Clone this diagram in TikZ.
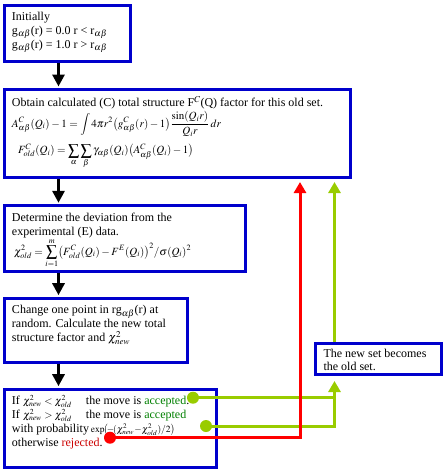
\documentclass[tikz,border=0pt]{standalone}
\usepackage{mathptmx}
\usepackage{amsmath}
\usepackage{fontspec}
\setmainfont{Liberation Serif}
\usepackage{xcolor}
\usetikzlibrary{arrows.meta,positioning,calc}
\definecolor{rmcblue}{RGB}{0,0,204}
\definecolor{movegreen}{RGB}{153,204,0}
\definecolor{okgreen}{RGB}{0,128,0}
\definecolor{rejred}{RGB}{204,0,0}
\definecolor{loopred}{RGB}{255,0,0}
\newcommand{\stagetext}[3]{\parbox[t][#2][t]{#1}{\raggedright #3}}
\newcommand{\eqsize}{\fontsize{11}{13}\selectfont}
\newcommand{\chisize}{\fontsize{10.5}{12}\selectfont}
\tikzset{
  stage/.style={rectangle, draw=rmcblue, line width=3pt, fill=white, anchor=north west,
    inner xsep=8pt, inner ysep=7pt, font=\fontsize{12}{14}\selectfont},
  flow/.style={-{Triangle[length=12pt,width=12pt]}, line width=3pt},
  okline/.style={draw=movegreen, line width=3pt},
  rejline/.style={draw=loopred, line width=3pt},
  okflow/.style={okline, -{Triangle[length=11pt,width=12pt]}},
  rejflow/.style={rejline, -{Triangle[length=11pt,width=12pt]}},
  dot/.style={circle, inner sep=0pt, minimum size=12pt},
}

\begin{document}
\begin{tikzpicture}[x=1pt, y=-1pt]
  \useasboundingbox (0,0) rectangle (443,469);
  % boxes of the RMC loop (left column)
  \node[stage] (init) at (2.5,3.5) {\stagetext{110pt}{42pt}{%
    Initially\\
    g$_{\alpha\beta}$(r) = 0.0 r < r$_{\alpha\beta}$\\
    g$_{\alpha\beta}$(r) = 1.0 r > r$_{\alpha\beta}$}};
  \node[stage] (calc) at (2.5,88) {\stagetext{330.8pt}{74pt}{%
    Obtain calculated (C) total structure F$^{C}$(Q) factor for this old set.\\[1pt]
    {\eqsize $\displaystyle A^{C}_{\alpha\beta}(Q_i)-1=\int 4\pi r^{2}\bigl(g^{C}_{\alpha\beta}(r)-1\bigr)\frac{\sin(Q_i r)}{Q_i r}\,dr$}\\[6pt]
    \hspace*{6pt}{\eqsize $\displaystyle F^{C}_{old}(Q_i)=\sum_{\alpha}\sum_{\beta}\gamma_{\alpha\beta}(Q_i)\bigl(A^{C}_{\alpha\beta}(Q_i)-1\bigr)$}}};
  \node[stage] (dev) at (2.5,204.3) {\stagetext{225pt}{51.5pt}{%
    Determine the deviation from the\\
    experimental (E) data.\\
    \hspace*{2pt}{\eqsize $\displaystyle \chi^{2}_{old}=\sum_{i=1}^{m}\bigl(F^{C}_{old}(Q_i)-F^{E}(Q_i)\bigr)^{2}/\sigma(Q_i)^{2}$}}};
  \node[stage] (change) at (2.5,296.7) {\stagetext{167.5pt}{50pt}{%
    Change one point in rg$_{\alpha\beta}$(r) at\\
    random. Calculate the new total\\
    structure factor and $\chi^{2}_{new}$}};
  \node[stage, inner ysep=6pt] (test) at (2.5,387.7) {\stagetext{196.5pt}{66.3pt}{%
    If \makebox[63pt][l]{\chisize$\chi^{2}_{new}<\chi^{2}_{old}$}the move is \textcolor{okgreen}{accepted}.\\
    If \makebox[63pt][l]{\chisize$\chi^{2}_{new}>\chi^{2}_{old}$}the move is \textcolor{okgreen}{accepted}\\
    with probability\,{\fontsize{9.5}{12}\selectfont $\exp\!\bigl(\!-\!(\chi^{2}_{new}\!-\!\chi^{2}_{old})/2\bigr)$}\\
    otherwise \textcolor{rejred}{rejected}.}};
  % right-hand box
  \node[stage, inner ysep=5.5pt] (newset) at (314,342) {\stagetext{109.5pt}{20pt}{%
    \baselineskip=13pt The new set becomes\\
    the old set.}};
  % columns of the connectors
  \coordinate (flowx) at (58.5,0);
  \coordinate (redx) at (300,0);
  \coordinate (greenx) at (334.5,0);
  % main flow
  \draw[flow, shorten >=1.5pt] (init.south -| flowx) -- (calc.north -| flowx);
  \draw[flow, shorten >=1.5pt] (calc.south -| flowx) -- (dev.north -| flowx);
  \draw[flow, shorten >=1.5pt] (dev.south -| flowx) -- (change.north -| flowx);
  \draw[flow, shorten >=1.5pt] (change.south -| flowx) -- (test.north -| flowx);
  % decision dots
  \coordinate (acceptdot) at (193,397.7);
  \coordinate (probdot) at (206,426);
  \coordinate (rejectdot) at (110,437.7);
  % accepted: back to the new set, then up
  \draw[okline] (acceptdot) -- (acceptdot -| greenx);
  \draw[okflow, shorten >=5pt] (probdot) -| (newset.south -| greenx);
  \draw[okflow, shorten >=3pt] (newset.north -| greenx) -- (greenx |- calc.south);
  % rejected: straight back up to the old set
  \draw[rejflow, shorten >=3pt] (rejectdot) -| (redx |- calc.south);
  \node[dot, fill=movegreen] (acc) at (acceptdot) {};
  \node[dot, fill=movegreen] (prob) at (probdot) {};
  \node[dot, fill=loopred] (rej) at (rejectdot) {};
\end{tikzpicture}
\end{document}
